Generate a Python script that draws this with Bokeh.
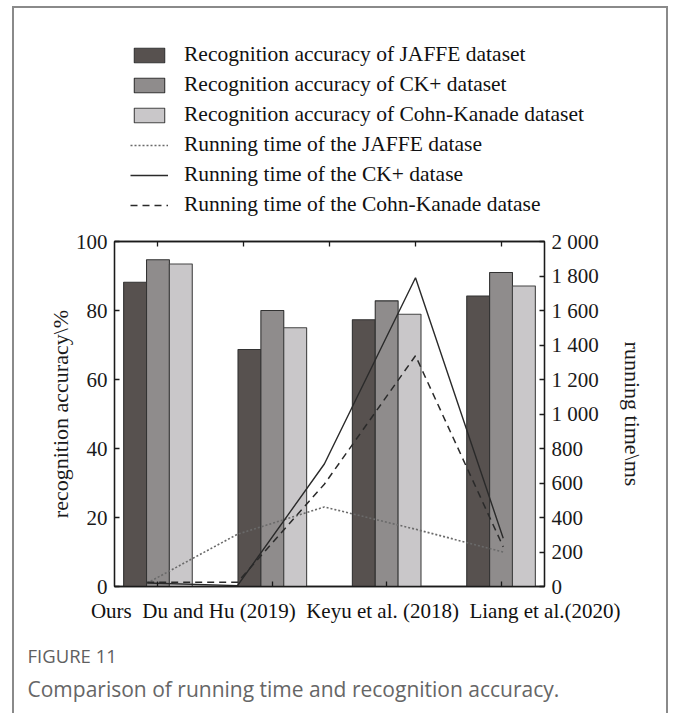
import numpy as np
from bokeh.plotting import figure
from bokeh.layouts import column
from bokeh.models import (Range1d, LinearAxis, FixedTicker, Legend, LegendItem, Label)
from bokeh.embed import file_html
from bokeh.resources import INLINE

# ---------------- data ----------------
methods = ["Ours", "Du and Hu (2019)", "Keyu et al. (2018)", "Liang et al.(2020)"]
acc_jaffe = [88.2, 68.7, 77.3, 84.2]
acc_ck = [94.7, 80.0, 82.8, 91.0]
acc_cohn = [93.5, 75.0, 78.9, 87.1]

time_x = [-0.12, 0.93, 1.94, 3.0, 4.02]
time_jaffe = [20, 303, 461, 332, 200]
time_ck = [20, 5, 710, 1790, 280]
time_cohn = [25, 25, 593, 1338, 230]

acc_ticks = [0, 20, 40, 60, 80, 100]
time_ticks = [0, 200, 400, 600, 800, 1000, 1200, 1400, 1600, 1800, 2000]
time_tick_labels = ["0", "200", "400", "600", "800", "1 000", "1 200", "1 400",
                    "1 600", "1 800", "2 000"]

legend_labels = ["Recognition accuracy of JAFFE dataset",
                 "Recognition accuracy of CK+ dataset",
                 "Recognition accuracy of Cohn-Kanade dataset",
                 "Running time of the JAFFE datase",
                 "Running time of the CK+ datase",
                 "Running time of the Cohn-Kanade datase"]

fig_label = "FIGURE 11"
caption = "Comparison of running time and recognition accuracy."

# ---------------- styling ----------------
SERIF = "Liberation Serif"
SANS = "Open Sans"
BAR_COLORS = ["#57514f", "#8f8c8c", "#c9c7c9"]
BAR_LINES = ["#333333", "#333333", "#444444"]
LINE_STYLES = [dict(line_color="#6a6a6a", line_width=1.6, line_dash="2 2"),
               dict(line_color="#2a2a2a", line_width=1.4, line_dash="solid"),
               dict(line_color="#2a2a2a", line_width=1.5, line_dash="7 5")]
CARD = "#8a8a8a"
W = 680
H_LEG, H_MAIN, H_CAP = 225, 373, 115
FR_L, FR_R = 114, 136


def card_style(with_top):
    n = 3 if with_top else 2
    top = 6 if with_top else 0
    imgs = [f"linear-gradient({CARD}, {CARD})"] * n
    size = ["2px 800px", "2px 800px"] + (["656px 2px"] if with_top else [])
    pos = [f"12px {top}px", f"666px {top}px"] + (["12px 6px"] if with_top else [])
    return {"background-color": "white", "background-image": ", ".join(imgs),
            "background-size": ", ".join(size), "background-position": ", ".join(pos),
            "background-repeat": "no-repeat"}


# ---------------- main chart ----------------
p = figure(width=W, height=H_MAIN, output_backend="svg", toolbar_location=None,
           x_range=Range1d(-0.38, 3.38), y_range=Range1d(0, 100),
           min_border_left=FR_L, min_border_right=FR_R,
           min_border_top=16, min_border_bottom=12, frame_align=False)
p.extra_x_ranges = {"lines": Range1d(-0.5, 4.5)}
p.extra_y_ranges = {"ms": Range1d(0, 2000)}
p.xgrid.visible = False
p.ygrid.visible = False
p.xaxis.visible = False
p.yaxis.visible = False
p.outline_line_color = "#1a1a1a"
p.outline_line_width = 1.3
p.background_fill_color = "white"
p.border_fill_alpha = 0
p.styles = card_style(False)

left = LinearAxis(ticker=FixedTicker(ticks=acc_ticks),
                  axis_label="recognition accuracy\\%")
right = LinearAxis(y_range_name="ms", ticker=FixedTicker(ticks=time_ticks),
                   axis_label="running time\\ms")
right.major_label_overrides = {t: s for t, s in zip(time_ticks, time_tick_labels)}
bottom = LinearAxis(ticker=FixedTicker(ticks=list(range(len(methods)))))
top = LinearAxis(x_range_name="lines", ticker=FixedTicker(ticks=[0, 1, 2, 3, 4]))
for ax in (left, right, bottom, top):
    ax.major_tick_in = 5
    ax.major_tick_out = 0
    ax.minor_tick_in = 0
    ax.minor_tick_out = 0
    ax.axis_line_color = "#1a1a1a"
    ax.axis_line_width = 1.3
    ax.major_tick_line_color = "#1a1a1a"
    ax.major_tick_line_width = 1.3
    ax.major_label_text_font = SERIF
    ax.major_label_text_font_size = "21px"
    ax.major_label_text_color = "#1a1a1a"
    ax.axis_label_text_font = SERIF
    ax.axis_label_text_font_size = "22px"
    ax.axis_label_text_font_style = "normal"
    ax.axis_label_text_color = "#1a1a1a"
for ax in (bottom, top):
    ax.major_label_overrides = {i: "" for i in range(5)}
    ax.major_label_text_font_size = "1px"
    ax.major_label_standoff = 0
left.major_label_standoff = 7
left.axis_label_standoff = 0
right.major_label_standoff = 7
right.axis_label_standoff = 18
p.add_layout(left, "left")
p.add_layout(right, "right")
p.add_layout(bottom, "below")
p.add_layout(top, "above")

idx = np.arange(len(methods))
bw = 0.2
bar_series = [acc_jaffe, acc_ck, acc_cohn]
time_series = [time_jaffe, time_ck, time_cohn]
for k, vals in enumerate(bar_series):
    p.vbar(x=idx + (k - 1) * bw, top=vals, width=bw, fill_color=BAR_COLORS[k],
           line_color=BAR_LINES[k], line_width=1.1)
for k, vals in enumerate(time_series):
    p.line(x=time_x, y=vals, x_range_name="lines", y_range_name="ms", **LINE_STYLES[k])

# ---------------- legend strip (proxy renderers kept out of view) ----------------
pl = figure(width=W, height=H_LEG, output_backend="svg", toolbar_location=None,
            x_range=Range1d(0, 1), y_range=Range1d(10000, 10001),
            x_axis_type=None, y_axis_type=None, min_border=0, frame_align=False)
pl.grid.visible = False
pl.outline_line_color = None
pl.background_fill_alpha = 0
pl.border_fill_alpha = 0
pl.styles = card_style(True)
sw = []
for k, vals in enumerate(bar_series):
    sw.append(pl.vbar(x=idx, top=vals, width=bw, fill_color=BAR_COLORS[k],
                      line_color=BAR_LINES[k], line_width=1.1))
for k, vals in enumerate(time_series):
    sw.append(pl.line(x=time_x, y=vals, **LINE_STYLES[k]))
legend = Legend(items=[LegendItem(label=lab, renderers=[r])
                       for lab, r in zip(legend_labels, sw)],
                location=(130, 8), orientation="vertical",
                glyph_width=38, glyph_height=18, label_height=24, spacing=5,
                label_standoff=16, padding=0, margin=0,
                border_line_alpha=0, background_fill_alpha=0,
                label_text_font=SERIF, label_text_font_size="21.5px",
                label_text_color="#111111")
pl.add_layout(legend, "center")

# ---------------- category row + caption ----------------
x0 = -0.38 - FR_L * (3.76 / 430)
x1 = 3.38 + FR_R * (3.76 / 430)
pc = figure(width=W, height=H_CAP, output_backend="svg", toolbar_location=None,
            x_range=Range1d(x0, x1), y_range=Range1d(0, H_CAP),
            x_axis_type=None, y_axis_type=None, min_border=0, frame_align=False)
pc.grid.visible = False
pc.outline_line_color = None
pc.background_fill_alpha = 0
pc.border_fill_alpha = 0
pc.styles = card_style(False)
pc.add_layout(Label(x=0, y=H_CAP - 0.5, x_offset=-67, text=" \u00a0".join(methods),
                    text_align="left", text_baseline="top",
                    text_font=SERIF, text_font_size="21px", text_color="#111111"))
pc.add_layout(Label(x=x0, y=58, x_offset=27, text=fig_label,
                    text_align="left", text_baseline="alphabetic",
                    text_font=SANS, text_font_size="18.5px", text_font_style="normal",
                    text_color="#5f5f5f"))
pc.add_layout(Label(x=x0, y=25, x_offset=27, text=caption,
                    text_align="left", text_baseline="alphabetic",
                    text_font=SANS, text_font_size="21px", text_color="#666666"))

lay = column(pl, p, pc, spacing=0)
open("out.html", "w").write(file_html(lay, INLINE))
